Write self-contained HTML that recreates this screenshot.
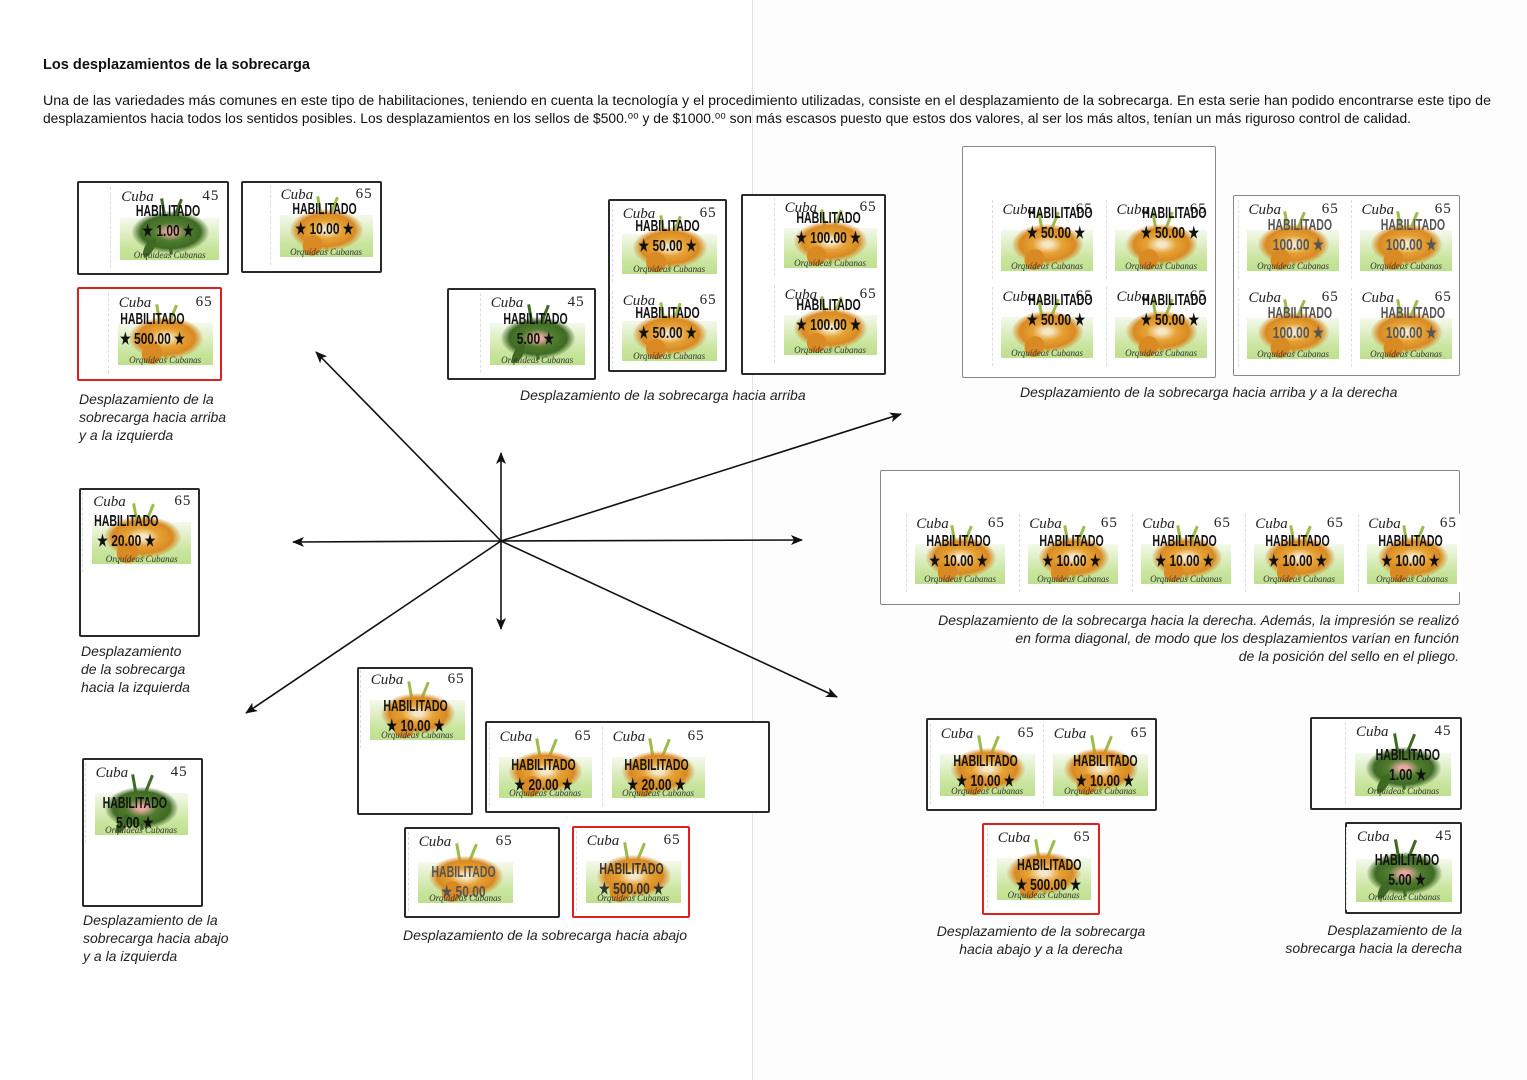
<!DOCTYPE html>
<html><head><meta charset="utf-8">
<style>
body{margin:0;width:1527px;height:1080px;position:relative;background:#fff;overflow:hidden;font-family:"Liberation Sans",sans-serif}
.fold{position:absolute;left:752px;top:0;width:775px;height:1080px;background:#fdfdfd;border-left:1px solid #e4e4e4}
.fr{position:absolute;border:2px solid #2a2a2a;border-radius:2px;background:#fff;box-sizing:border-box}
.fr.r{border-color:#e02020}
.fr.l{border:1px solid #888}
.s{position:absolute;background:#fff;overflow:hidden;box-sizing:border-box;border-left:1px dashed #ddd}
.s .g{position:absolute;left:8%;right:5%;top:38%;bottom:10%;background:linear-gradient(#f4f9ec,#c9e59d 70%,#bfe08f)}
.s .st{position:absolute;left:47%;top:14%;width:3px;height:70%;background:#9cbc4a;transform:rotate(-10deg)}
.s .st2{position:absolute;left:55%;top:14%;width:3px;height:40%;background:#9cbc4a;transform:rotate(22deg)}
.s .fl{position:absolute;left:18%;top:30%;width:68%;height:52%;border-radius:50%;background:radial-gradient(ellipse,#f6e7c8 8%,#e6a235 30%,#d98a22 55%,rgba(230,150,40,0) 72%)}
.s .fl2{position:absolute;left:30%;top:62%;width:18%;height:26%;border-radius:50%;background:#d98a22;transform:rotate(30deg)}
.s.gr .fl{background:radial-gradient(ellipse,#e7a8a0 8%,#4f7d2e 30%,#3f6a24 55%,rgba(60,100,40,0) 72%)}
.s.gr .fl2{background:#3f6a24;width:8%}
.s.gr .st,.s.gr .st2{background:#3f6a24}
.s .c{position:absolute;left:9%;top:2%;font:italic 15px "Liberation Serif",serif;color:#222}
.s .n{position:absolute;right:5%;top:1%;font:15px "Liberation Serif",serif;color:#222;letter-spacing:1px}
.s .o{position:absolute;left:8%;right:5%;bottom:10%;text-align:center;font:italic 9px "Liberation Serif",serif;color:#333}
.s .ov{position:absolute;left:0;right:0;top:24%;text-align:center;color:#111;line-height:17px}
.s .h{display:block;font:bold 16px "Liberation Sans",sans-serif;transform:scaleX(.66)}
.s .v{display:block;font:bold 16px "Liberation Sans",sans-serif;transform:scaleX(.75)}
.cap{position:absolute;font:italic 14px "Liberation Sans",sans-serif;color:#222;line-height:18px}
</style></head><body>
<div class="fold"></div>

<svg width="1527" height="1080" style="position:absolute;left:0;top:0" font-family="Liberation Sans, sans-serif">
<text x="43" y="69" font-size="14.5" font-weight="bold" fill="#111" textLength="267" lengthAdjust="spacingAndGlyphs">Los desplazamientos de la sobrecarga</text>
<text x="43" y="105" font-size="13.5" fill="#111" textLength="1448" lengthAdjust="spacingAndGlyphs">Una de las variedades más comunes en este tipo de habilitaciones, teniendo en cuenta la tecnología y el procedimiento utilizadas, consiste en el desplazamiento de la sobrecarga. En esta serie han podido encontrarse este tipo de</text>
<text x="43" y="123" font-size="13.5" fill="#111" textLength="1368" lengthAdjust="spacingAndGlyphs">desplazamientos hacia todos los sentidos posibles. Los desplazamientos en los sellos de $500.⁰⁰ y de $1000.⁰⁰ son más escasos puesto que estos dos valores, al ser los más altos, tenían un más riguroso control de calidad.</text>
<defs><marker id="a" markerWidth="12" markerHeight="10" refX="11" refY="5" orient="auto" markerUnits="userSpaceOnUse"><path d="M0,0 L12,5 L0,10 L3,5 z" fill="#111"/></marker></defs>
<g stroke="#111" stroke-width="1.6" marker-end="url(#a)">
<line x1="501" y1="541" x2="316" y2="352"/>
<line x1="501" y1="541" x2="501" y2="453"/>
<line x1="501" y1="541" x2="901" y2="414"/>
<line x1="501" y1="541" x2="293" y2="542"/>
<line x1="501" y1="541" x2="802" y2="540"/>
<line x1="501" y1="541" x2="501" y2="629"/>
<line x1="501" y1="541" x2="246" y2="713"/>
<line x1="501" y1="541" x2="837" y2="697"/>
</g>
</svg>

<!-- frames -->
<div class="fr" style="left:77px;top:181px;width:152px;height:94px"></div>
<div class="fr" style="left:241px;top:181px;width:141px;height:92px"></div>
<div class="fr r" style="left:77px;top:287px;width:145px;height:94px"></div>
<div class="fr" style="left:79px;top:488px;width:121px;height:149px"></div>
<div class="fr" style="left:82px;top:758px;width:121px;height:149px"></div>
<div class="fr" style="left:447px;top:288px;width:149px;height:92px"></div>
<div class="fr" style="left:608px;top:199px;width:119px;height:173px"></div>
<div class="fr" style="left:741px;top:194px;width:145px;height:181px"></div>
<div class="fr l" style="left:962px;top:146px;width:254px;height:232px"></div>
<div class="fr l" style="left:1233px;top:195px;width:227px;height:181px"></div>
<div class="fr l" style="left:880px;top:470px;width:580px;height:135px"></div>
<div class="fr" style="left:357px;top:667px;width:116px;height:148px"></div>
<div class="fr" style="left:485px;top:721px;width:285px;height:92px"></div>
<div class="fr" style="left:404px;top:827px;width:156px;height:91px"></div>
<div class="fr r" style="left:572px;top:826px;width:118px;height:92px"></div>
<div class="fr" style="left:926px;top:718px;width:231px;height:93px"></div>
<div class="fr r" style="left:982px;top:823px;width:118px;height:92px"></div>
<div class="fr" style="left:1310px;top:717px;width:152px;height:93px"></div>
<div class="fr" style="left:1345px;top:822px;width:117px;height:92px"></div>

<!-- stamps -->
<div class="s gr" style="left:110px;top:187px;width:115px;height:81px"><i class="g"></i><i class="st"></i><i class="st2"></i><i class="fl"></i><i class="fl2"></i><b class="c">Cuba</b><b class="n">45</b><div class="ov" style="top:20%"><b class="h">HABILITADO</b><b class="v">★ 1.00 ★</b></div><b class="o">Orquídeas Cubanas</b></div>
<div class="s" style="left:270px;top:185px;width:108px;height:80px"><i class="g"></i><i class="st"></i><i class="st2"></i><i class="fl"></i><i class="fl2"></i><b class="c">Cuba</b><b class="n">65</b><div class="ov" style="top:20%"><b class="h">HABILITADO</b><b class="v">★ 10.00 ★</b></div><b class="o">Orquídeas Cubanas</b></div>
<div class="s" style="left:108px;top:293px;width:110px;height:80px"><i class="g"></i><i class="st"></i><i class="st2"></i><i class="fl"></i><i class="fl2"></i><b class="c">Cuba</b><b class="n">65</b><div class="ov" style="top:22%;left:-20%"><b class="h">HABILITADO</b><b class="v">★ 500.00 ★</b></div><b class="o">Orquídeas Cubanas</b></div>
<div class="s" style="left:82px;top:492px;width:115px;height:80px"><i class="g"></i><i class="st"></i><i class="st2"></i><i class="fl"></i><i class="fl2"></i><b class="c">Cuba</b><b class="n">65</b><div class="ov" style="top:26%;left:-25%"><b class="h">HABILITADO</b><b class="v">★ 20.00 ★</b></div><b class="o">Orquídeas Cubanas</b></div>
<div class="s gr" style="left:85px;top:763px;width:108px;height:80px"><i class="g"></i><i class="st"></i><i class="st2"></i><i class="fl"></i><i class="fl2"></i><b class="c">Cuba</b><b class="n">45</b><div class="ov" style="top:40%;left:-8%"><b class="h">HABILITADO</b><b class="v">5.00 ★</b></div><b class="o">Orquídeas Cubanas</b></div>
<div class="s gr" style="left:480px;top:293px;width:110px;height:80px"><i class="g"></i><i class="st"></i><i class="st2"></i><i class="fl"></i><i class="fl2"></i><b class="c">Cuba</b><b class="n">45</b><div class="ov" style="top:22%"><b class="h">HABILITADO</b><b class="v">5.00 ★</b></div><b class="o">Orquídeas Cubanas</b></div>
<div class="s" style="left:612px;top:204px;width:110px;height:78px"><i class="g"></i><i class="st"></i><i class="st2"></i><i class="fl"></i><i class="fl2"></i><b class="c">Cuba</b><b class="n">65</b><div class="ov" style="top:18%"><b class="h">HABILITADO</b><b class="v">★ 50.00 ★</b></div><b class="o">Orquídeas Cubanas</b></div>
<div class="s" style="left:612px;top:291px;width:110px;height:78px"><i class="g"></i><i class="st"></i><i class="st2"></i><i class="fl"></i><i class="fl2"></i><b class="c">Cuba</b><b class="n">65</b><div class="ov" style="top:18%"><b class="h">HABILITADO</b><b class="v">★ 50.00 ★</b></div><b class="o">Orquídeas Cubanas</b></div>
<div class="s" style="left:774px;top:198px;width:108px;height:78px"><i class="g"></i><i class="st"></i><i class="st2"></i><i class="fl"></i><i class="fl2"></i><b class="c">Cuba</b><b class="n">65</b><div class="ov" style="top:16%"><b class="h">HABILITADO</b><b class="v">★ 100.00 ★</b></div><b class="o">Orquídeas Cubanas</b></div>
<div class="s" style="left:774px;top:285px;width:108px;height:78px"><i class="g"></i><i class="st"></i><i class="st2"></i><i class="fl"></i><i class="fl2"></i><b class="c">Cuba</b><b class="n">65</b><div class="ov" style="top:16%"><b class="h">HABILITADO</b><b class="v">★ 100.00 ★</b></div><b class="o">Orquídeas Cubanas</b></div>
<div class="s" style="left:992px;top:200px;width:106px;height:79px"><i class="g"></i><i class="st"></i><i class="st2"></i><i class="fl"></i><i class="fl2"></i><b class="c">Cuba</b><b class="n">65</b><div class="ov" style="top:6%;left:20%"><b class="h">HABILITADO</b><b class="v">★ 50.00 ★</b></div><b class="o">Orquídeas Cubanas</b></div>
<div class="s" style="left:1106px;top:200px;width:106px;height:79px"><i class="g"></i><i class="st"></i><i class="st2"></i><i class="fl"></i><i class="fl2"></i><b class="c">Cuba</b><b class="n">65</b><div class="ov" style="top:6%;left:20%"><b class="h">HABILITADO</b><b class="v">★ 50.00 ★</b></div><b class="o">Orquídeas Cubanas</b></div>
<div class="s" style="left:992px;top:287px;width:106px;height:79px"><i class="g"></i><i class="st"></i><i class="st2"></i><i class="fl"></i><i class="fl2"></i><b class="c">Cuba</b><b class="n">65</b><div class="ov" style="top:6%;left:20%"><b class="h">HABILITADO</b><b class="v">★ 50.00 ★</b></div><b class="o">Orquídeas Cubanas</b></div>
<div class="s" style="left:1106px;top:287px;width:106px;height:79px"><i class="g"></i><i class="st"></i><i class="st2"></i><i class="fl"></i><i class="fl2"></i><b class="c">Cuba</b><b class="n">65</b><div class="ov" style="top:6%;left:20%"><b class="h">HABILITADO</b><b class="v">★ 50.00 ★</b></div><b class="o">Orquídeas Cubanas</b></div>
<div class="s" style="left:1238px;top:200px;width:106px;height:79px"><i class="g"></i><i class="st"></i><i class="st2"></i><i class="fl"></i><i class="fl2"></i><b class="c">Cuba</b><b class="n">65</b><div class="ov" style="top:22%;left:12%;color:#555"><b class="h">HABILITADO</b><b class="v">100.00 ★</b></div><b class="o">Orquídeas Cubanas</b></div>
<div class="s" style="left:1351px;top:200px;width:106px;height:79px"><i class="g"></i><i class="st"></i><i class="st2"></i><i class="fl"></i><i class="fl2"></i><b class="c">Cuba</b><b class="n">65</b><div class="ov" style="top:22%;left:12%;color:#555"><b class="h">HABILITADO</b><b class="v">100.00 ★</b></div><b class="o">Orquídeas Cubanas</b></div>
<div class="s" style="left:1238px;top:288px;width:106px;height:79px"><i class="g"></i><i class="st"></i><i class="st2"></i><i class="fl"></i><i class="fl2"></i><b class="c">Cuba</b><b class="n">65</b><div class="ov" style="top:22%;left:12%;color:#555"><b class="h">HABILITADO</b><b class="v">100.00 ★</b></div><b class="o">Orquídeas Cubanas</b></div>
<div class="s" style="left:1351px;top:288px;width:106px;height:79px"><i class="g"></i><i class="st"></i><i class="st2"></i><i class="fl"></i><i class="fl2"></i><b class="c">Cuba</b><b class="n">65</b><div class="ov" style="top:22%;left:12%;color:#555"><b class="h">HABILITADO</b><b class="v">100.00 ★</b></div><b class="o">Orquídeas Cubanas</b></div>

<div class="s" style="left:906px;top:514px;width:104px;height:78px"><i class="g"></i><i class="st"></i><i class="st2"></i><i class="fl"></i><i class="fl2"></i><b class="c">Cuba</b><b class="n">65</b><div class="ov" style="top:24%"><b class="h">HABILITADO</b><b class="v">★ 10.00 ★</b></div><b class="o">Orquídeas Cubanas</b></div>
<div class="s" style="left:1019px;top:514px;width:104px;height:78px"><i class="g"></i><i class="st"></i><i class="st2"></i><i class="fl"></i><i class="fl2"></i><b class="c">Cuba</b><b class="n">65</b><div class="ov" style="top:24%"><b class="h">HABILITADO</b><b class="v">★ 10.00 ★</b></div><b class="o">Orquídeas Cubanas</b></div>
<div class="s" style="left:1132px;top:514px;width:104px;height:78px"><i class="g"></i><i class="st"></i><i class="st2"></i><i class="fl"></i><i class="fl2"></i><b class="c">Cuba</b><b class="n">65</b><div class="ov" style="top:24%"><b class="h">HABILITADO</b><b class="v">★ 10.00 ★</b></div><b class="o">Orquídeas Cubanas</b></div>
<div class="s" style="left:1245px;top:514px;width:104px;height:78px"><i class="g"></i><i class="st"></i><i class="st2"></i><i class="fl"></i><i class="fl2"></i><b class="c">Cuba</b><b class="n">65</b><div class="ov" style="top:24%"><b class="h">HABILITADO</b><b class="v">★ 10.00 ★</b></div><b class="o">Orquídeas Cubanas</b></div>
<div class="s" style="left:1358px;top:514px;width:104px;height:78px"><i class="g"></i><i class="st"></i><i class="st2"></i><i class="fl"></i><i class="fl2"></i><b class="c">Cuba</b><b class="n">65</b><div class="ov" style="top:24%"><b class="h">HABILITADO</b><b class="v">★ 10.00 ★</b></div><b class="o">Orquídeas Cubanas</b></div>

<div class="s" style="left:360px;top:670px;width:110px;height:78px"><i class="g"></i><i class="st"></i><i class="st2"></i><i class="fl"></i><i class="fl2"></i><b class="c">Cuba</b><b class="n">65</b><div class="ov" style="top:36%"><b class="h">HABILITADO</b><b class="v">★ 10.00 ★</b></div><b class="o">Orquídeas Cubanas</b></div>
<div class="s" style="left:489px;top:727px;width:108px;height:79px"><i class="g"></i><i class="st"></i><i class="st2"></i><i class="fl"></i><i class="fl2"></i><b class="c">Cuba</b><b class="n">65</b><div class="ov" style="top:38%"><b class="h">HABILITADO</b><b class="v">★ 20.00 ★</b></div><b class="o">Orquídeas Cubanas</b></div>
<div class="s" style="left:602px;top:727px;width:108px;height:79px"><i class="g"></i><i class="st"></i><i class="st2"></i><i class="fl"></i><i class="fl2"></i><b class="c">Cuba</b><b class="n">65</b><div class="ov" style="top:38%"><b class="h">HABILITADO</b><b class="v">★ 20.00 ★</b></div><b class="o">Orquídeas Cubanas</b></div>
<div class="s" style="left:408px;top:832px;width:110px;height:79px"><i class="g"></i><i class="st"></i><i class="st2"></i><i class="fl"></i><i class="fl2"></i><b class="c">Cuba</b><b class="n">65</b><div class="ov" style="top:40%;color:#555"><b class="h">HABILITADO</b><b class="v">★ 50.00</b></div><b class="o">Orquídeas Cubanas</b></div>
<div class="s" style="left:576px;top:831px;width:110px;height:80px"><i class="g"></i><i class="st"></i><i class="st2"></i><i class="fl"></i><i class="fl2"></i><b class="c">Cuba</b><b class="n">65</b><div class="ov" style="top:38%;color:#333"><b class="h">HABILITADO</b><b class="v">★ 500.00 ★</b></div><b class="o">Orquídeas Cubanas</b></div>
<div class="s" style="left:930px;top:724px;width:110px;height:80px"><i class="g"></i><i class="st"></i><i class="st2"></i><i class="fl"></i><i class="fl2"></i><b class="c">Cuba</b><b class="n">65</b><div class="ov" style="top:36%"><b class="h">HABILITADO</b><b class="v">★ 10.00 ★</b></div><b class="o">Orquídeas Cubanas</b></div>
<div class="s" style="left:1043px;top:724px;width:110px;height:80px"><i class="g"></i><i class="st"></i><i class="st2"></i><i class="fl"></i><i class="fl2"></i><b class="c">Cuba</b><b class="n">65</b><div class="ov" style="top:36%;left:12%"><b class="h">HABILITADO</b><b class="v">★ 10.00 ★</b></div><b class="o">Orquídeas Cubanas</b></div>
<div class="s" style="left:987px;top:828px;width:109px;height:80px"><i class="g"></i><i class="st"></i><i class="st2"></i><i class="fl"></i><i class="fl2"></i><b class="c">Cuba</b><b class="n">65</b><div class="ov" style="top:36%;left:12%"><b class="h">HABILITADO</b><b class="v">★ 500.00 ★</b></div><b class="o">Orquídeas Cubanas</b></div>
<div class="s gr" style="left:1345px;top:722px;width:112px;height:82px"><i class="g"></i><i class="st"></i><i class="st2"></i><i class="fl"></i><i class="fl2"></i><b class="c">Cuba</b><b class="n">45</b><div class="ov" style="top:30%;left:12%"><b class="h">HABILITADO</b><b class="v">1.00 ★</b></div><b class="o">Orquídeas Cubanas</b></div>
<div class="s gr" style="left:1346px;top:827px;width:112px;height:83px"><i class="g"></i><i class="st"></i><i class="st2"></i><i class="fl"></i><i class="fl2"></i><b class="c">Cuba</b><b class="n">45</b><div class="ov" style="top:30%;left:8%"><b class="h">HABILITADO</b><b class="v">5.00 ★</b></div><b class="o">Orquídeas Cubanas</b></div>

<!-- captions -->
<div class="cap" style="left:79px;top:390px">Desplazamiento de la<br>sobrecarga hacia arriba<br>y a la izquierda</div>
<div class="cap" style="left:520px;top:386px">Desplazamiento de la sobrecarga hacia arriba</div>
<div class="cap" style="left:1020px;top:383px">Desplazamiento de la sobrecarga hacia arriba y a la derecha</div>
<div class="cap" style="left:81px;top:642px">Desplazamiento<br>de la sobrecarga<br>hacia la izquierda</div>
<div class="cap" style="left:880px;top:611px;width:579px;text-align:right">Desplazamiento de la sobrecarga hacia la derecha. Además, la impresión se realizó<br>en forma diagonal, de modo que los desplazamientos varían en función<br>de la posición del sello en el pliego.</div>
<div class="cap" style="left:83px;top:911px">Desplazamiento de la<br>sobrecarga hacia abajo<br>y a la izquierda</div>
<div class="cap" style="left:403px;top:926px">Desplazamiento de la sobrecarga hacia abajo</div>
<div class="cap" style="left:920px;top:922px;width:242px;text-align:center">Desplazamiento de la sobrecarga<br>hacia abajo y a la derecha</div>
<div class="cap" style="left:1262px;top:921px;width:200px;text-align:right">Desplazamiento de la<br>sobrecarga hacia la derecha</div>
</body></html>
